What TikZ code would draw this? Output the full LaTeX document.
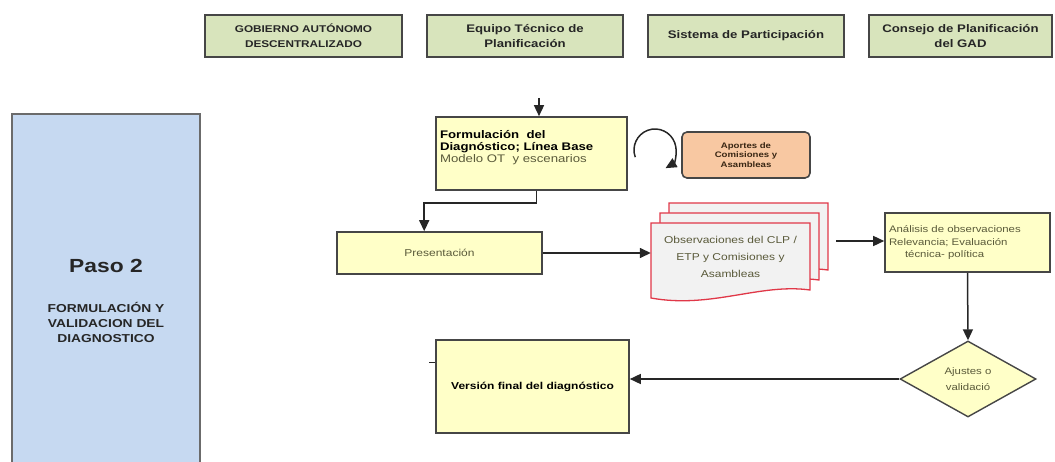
\documentclass[tikz,border=0pt]{standalone}
\usepackage{fontspec}
\setmainfont[FakeStretch=1.2]{Liberation Sans}
\usetikzlibrary{arrows.meta,shapes.geometric}
\definecolor{hdrgreen}{HTML}{D8E4BC}
\definecolor{pasoblue}{HTML}{C6D9F1}
\definecolor{boxyellow}{HTML}{FFFFC8}
\definecolor{peach}{HTML}{F8C8A2}
\definecolor{obsred}{HTML}{E03848}
\definecolor{obsfill}{HTML}{F2F2F2}
\definecolor{boxline}{HTML}{464646}
\definecolor{txtolive}{HTML}{5A5A3A}
\begin{document}
\begin{tikzpicture}[
			x = 1pt, y = -1pt,
			every node/.style = {inner sep = 4pt},
			hdr/.style = {draw=boxline, line width=1.8pt, fill=hdrgreen, minimum height=42pt, align=center, text=black!85, font=\fontsize{11}{15}\selectfont\bfseries},
			paso/.style = {draw=boxline!80, line width=1.3pt, fill=pasoblue, minimum width=188pt, minimum height=373pt, align=center, text=black!85, font=\fontsize{11.5}{15}\selectfont\bfseries},
			ybox/.style = {draw=boxline, line width=1.6pt, fill=boxyellow},
			aport/.style = {draw=boxline, line width=1.6pt, fill=peach, rounded corners=5pt, minimum width=128pt, minimum height=46pt, align=center, text=black!70!brown, font=\fontsize{8}{9.5}\selectfont\bfseries},
			obsdoc/.style = {draw=obsred, line width=1.3pt, fill=obsfill},
			dia/.style = {diamond, draw=boxline, line width=1.4pt, fill=boxyellow, aspect=1.8, inner sep=0pt, minimum width=136pt, minimum height=76pt, align=center, text=txtolive, font=\fontsize{9.5}{16}\selectfont},
			conn/.style = {line width=1.5pt, draw=black!85},
			arr/.style = {conn, -{Triangle[length=11pt,width=10pt]}}]

			\useasboundingbox (0,0) rectangle (1055,462);

			\node[hdr, minimum width=197pt, font=\fontsize{9.8}{15}\selectfont\bfseries] (gad) at (303.5,36) {GOBIERNO AUTÓNOMO\\DESCENTRALIZADO};
			\node[hdr, minimum width=196pt] (etp) at (525,36) {Equipo Técnico de\\Planificación};
			\node[hdr, minimum width=196pt] (sis) at (746,36) {Sistema de Participación};
			\node[hdr, minimum width=183pt] (clp) at (960.5,36) {Consejo de Planificación\\del GAD};

			\node[paso] (paso) at (106,300.5) {{\fontsize{19}{20}\selectfont Paso 2}\\[25pt]FORMULACIÓN Y\\VALIDACION DEL\\DIAGNOSTICO};

			\node[ybox, minimum width=191pt, text width=183pt, align=left, text height=18pt, text depth=47pt, font=\fontsize{11}{11.7}\selectfont] (form) at (531.5,153.5)
				{\textbf{Formulación \ del}\\\textbf{Diagnóstico; Línea Base}\\\textcolor{txtolive}{Modelo OT \ y escenarios}};
			\node[aport] (aport) at (746,155) {Aportes de\\Comisiones y\\Asambleas};
			\coordinate (rot) at (655,150);
			\coordinate (entry) at (539,98);

			\node[ybox, minimum width=205pt, minimum height=42pt, text=txtolive, font=\fontsize{10}{12}\selectfont] (pres) at (439.5,253) {Presentación};

			\foreach \dx/\dy in {18/-20, 9/-10, 0/0}
				\filldraw[obsdoc, shift={(\dx,\dy)}] (651,223) -- (810,223) -- (810,290) .. controls (760,283) and (711,309) .. (651,298) -- cycle;
			\node[minimum width=159pt, minimum height=67pt, align=center, text=txtolive, font=\fontsize{10}{17}\selectfont] (obs) at (730.5,257)
				{Observaciones del CLP /\\ETP y Comisiones y\\Asambleas};
			\coordinate (obsout) at (836,241);

			\node[ybox, minimum width=165pt, minimum height=59pt, text width=157pt, align=left, text=txtolive, font=\fontsize{9.5}{12.3}\selectfont] (ana) at (967.5,242.5)
				{Análisis de observaciones\\Relevancia; Evaluación\\\hspace*{16pt}técnica- política};

			\node[dia] (dia) at (968,379) {Ajustes o\\validació};
			\node[ybox, minimum width=193pt, minimum height=93pt, font=\fontsize{10}{12}\selectfont\bfseries] (ver) at (532.5,386.5) {Versión final del diagnóstico};

			\draw[arr] (entry) -- (entry |- form.north);
			\draw[arr] (rot) ++(160:21) arc[start angle=160, end angle=420, radius=21];
			\draw[arr] ([xshift=5pt]form.south) -- ++(0,12) -| ([xshift=88pt]pres.north west);
			\draw[arr] (pres.east) -- (pres.east -| obs.west);
			\draw[arr] (obsout) -- (obsout -| ana.west);
			\draw[arr] (ana.south) -- (dia.north);
			\draw[arr] (dia.west) -- (dia.west -| ver.east);
			\draw[conn] ([yshift=24pt]ver.west) -- ++(-6,0);

		\end{tikzpicture}
\end{document}
